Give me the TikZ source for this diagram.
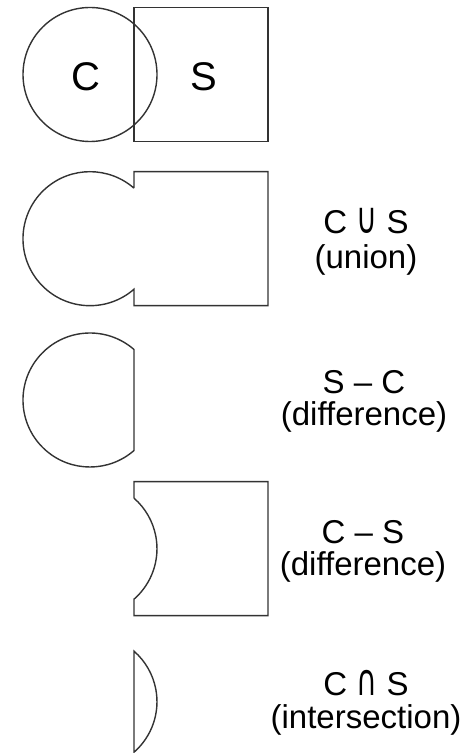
\documentclass[tikz,border=0pt]{standalone}
\usepackage{fontspec}
\setmainfont{Liberation Sans}
\newfontfamily\symf{DejaVu Sans}
\newcommand{\tallsym}[1]{\scalebox{0.95}[1.45]{\symf\fontsize{30}{34}\selectfont #1}}
\begin{document}
\begin{tikzpicture}[x=1pt,y=1pt,
  outline/.style={draw=black!80,line width=1.4pt,line join=miter},
  big/.style={inner sep=0pt,anchor=base,font=\fontsize{40}{44}\selectfont},
  lbl/.style={inner sep=0pt,anchor=base,font=\fontsize{33}{38}\selectfont}]
\useasboundingbox (0,0) rectangle (473,753);
% row 1
\draw[outline] (90,678.5) circle[radius=67];
\draw[outline] (134,611.5) rectangle (268,745.5);
\node[big] (c1) at (86,662.3) {C};
\node[big] (s1) at (204,662.3) {S};
% row 2 union
\draw[outline] (134,564.8) -- (134,581.3) -- (268,581.3) -- (268,447.3) -- (134,447.3) -- (134,463.8)
  arc[start angle=-48.93,end angle=-311.07,radius=67] -- cycle;
\node[lbl] (u1) at (366,519) {C \tallsym{∪} S};
\node[lbl] (u2) at (366,484) {(union)};
% row 3
\draw[outline] (134,403.5) arc[start angle=48.93,end angle=311.07,radius=67] -- cycle;
\node[lbl] (d1) at (364,359) {S – C};
\node[lbl] (d2) at (364,327) {(difference)};
% row 4
\draw[outline] (134,254.8) -- (134,271.3) -- (268,271.3) -- (268,137.3) -- (134,137.3) -- (134,153.8)
  arc[start angle=-48.93,end angle=48.93,radius=67] -- cycle;
\node[lbl] (e1) at (363,209) {C – S};
\node[lbl] (e2) at (363,177) {(difference)};
% row 5
\draw[outline] (134,0.8) arc[start angle=-48.93,end angle=48.93,radius=67] -- cycle;
\node[lbl] (i1) at (366,57) {C \tallsym{∩} S};
\node[lbl] (i2) at (366,24) {(intersection)};
\end{tikzpicture}
\end{document}
